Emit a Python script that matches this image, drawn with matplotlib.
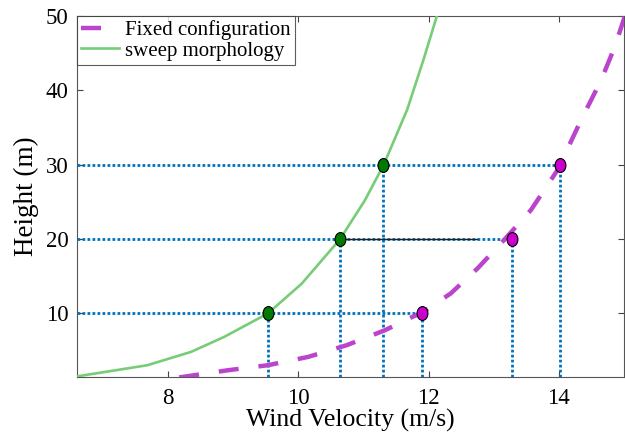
import matplotlib
matplotlib.use("Agg")
import matplotlib.pyplot as plt
from matplotlib.path import Path
from matplotlib.transforms import Affine2D

# sweep morphology curve
sweep_v = [6.55, 7.68, 8.35, 8.86, 9.53, 10.05, 10.64, 11.02, 11.31, 11.67, 11.92, 12.13]
sweep_h = [1.47, 3.04, 4.83, 6.85, 10.0, 14.0, 20.0, 25.2, 30.0, 37.4, 44.1, 50.1]

# fixed configuration curve
fixed_v = [8.17, 8.92, 9.53, 10.15, 10.74, 11.33, 11.75, 11.90, 12.34, 12.75,
           13.16, 13.57, 13.98, 14.34, 14.65, 14.86, 15.01]
fixed_h = [1.4, 2.37, 3.04, 4.16, 5.73, 7.75, 9.54, 10.1, 12.7, 16.05,
           19.9, 23.9, 29.3, 36.0, 41.4, 45.9, 49.9]

# marked heights
heights = [10, 20, 30]
sweep_pts = [9.53, 10.64, 11.30]
fixed_pts = [11.90, 13.28, 14.01]

xticks = [8, 10, 12, 14]
yticks = [10, 20, 30, 40, 50]

plt.rcParams['font.family'] = ['Liberation Serif', 'DejaVu Serif']

fig = plt.figure(figsize=(6.25, 4.47), dpi=100)
ax = fig.add_axes([0.1232, 0.1573, 0.8752, 0.8069])

blue = '#0072BD'
ymin = 1.5
xmin = 6.6
for h, xs, xf in zip(heights, sweep_pts, fixed_pts):
    ax.plot([xmin, xf], [h, h], ls=(0, (1, 0.8)), color=blue, lw=2.0, zorder=2)
    ax.plot([xs, xs], [ymin, h], ls=(0, (1, 0.8)), color=blue, lw=2.0, zorder=2)
    ax.plot([xf, xf], [ymin, h], ls=(0, (1, 0.8)), color=blue, lw=2.0, zorder=2)

# thin dark line at 20 m
ax.plot([sweep_pts[1], 12.75], [20, 20], color='#222222', lw=1.0, zorder=2)

l1, = ax.plot(fixed_v, fixed_h, ls=(0, (4.5, 4.5)), color='#BB44CC', lw=3.2,
              label='Fixed configuration', zorder=3)
l2, = ax.plot(sweep_v, sweep_h, color='#77CC77', lw=1.9,
              label='sweep morphology', zorder=3)

ell = Path.unit_circle().transformed(Affine2D().scale(0.78, 1.0))
ax.plot(sweep_pts, heights, ls='none', marker=ell, color='#007A00', mec='black',
        mew=0.8, ms=10, zorder=5)
ax.plot(fixed_pts, heights, ls='none', marker=ell, color='#CC00CC', mec='black',
        mew=0.8, ms=10, zorder=5)

ax.set_xlim(6.6, 15.0)
ax.set_ylim(1.5, 50)
ax.set_xticks(xticks)
ax.set_yticks(yticks)
ax.tick_params(direction='in', top=True, right=True, labelsize=16.5,
               length=4, color='#444444', pad=6)
ax.tick_params(axis='x', pad=8)
for s in ax.spines.values():
    s.set_color('#555555')
    s.set_linewidth(0.8)

ax.set_xlabel('Wind Velocity (m/s)', fontsize=18.5, labelpad=0)
ax.set_ylabel('Height (m)', fontsize=19.5, labelpad=5)

leg = ax.legend(handles=[l1, l2], loc='upper left', fontsize=15,
                frameon=True, fancybox=False, edgecolor='#333333',
                borderaxespad=0, handlelength=1.8, handletextpad=0.3,
                borderpad=0.2, labelspacing=0.05)
leg.get_frame().set_linewidth(0.8)

fig.savefig('out.png', dpi=100)
